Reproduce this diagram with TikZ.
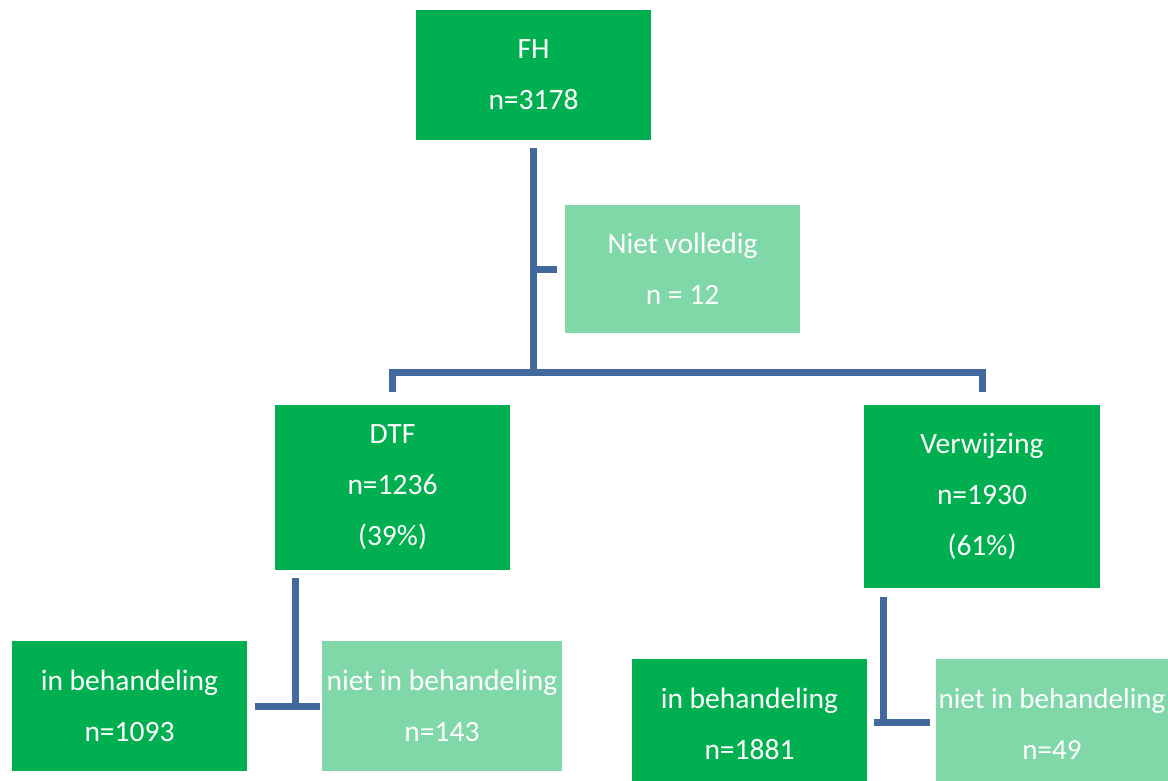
\documentclass[tikz,border=0pt]{standalone}
\usepackage{fontspec}
\setmainfont{Carlito}
\usepackage{tikz}
\usepackage{xcolor}
\usetikzlibrary{positioning, calc}
\definecolor{cDark}{RGB}{0,176,80}
\definecolor{cLight}{RGB}{128,216,168}
\definecolor{cLine}{RGB}{65,105,158}
\tikzset{
	box/.style     ={rectangle, inner sep=0pt, minimum width=235pt, text=white, align=center, font=\fontsize{29.5}{51}\selectfont},
	darkbox/.style ={box, fill=cDark},
	lightbox/.style={box, fill=cLight},
	conn/.style    ={cLine, line width=7pt},
}
\begin{document}
\begin{tikzpicture}[x=1pt, y=-1pt]
	\useasboundingbox (0,0) rectangle (1168,781);
	\clip (0,0) rectangle (1168,781);
	% boxes
	\node[darkbox, minimum height=130pt] (fh) at (533.5,75) {FH\\n=3178};
	\node[lightbox, minimum height=128pt] (nietvol) at (682.5,269) {Niet volledig\\n = 12};
	\node[darkbox, minimum height=165pt] (dtf) at (392.5,487.5) {DTF\\n=1236\\(39\%)};
	\node[darkbox, minimum height=183pt, minimum width=236pt] (verw) at (982,496.5) {Verwijzing\\n=1930\\(61\%)};
	\node[darkbox, minimum height=130pt] (dtfin) at (129.5,706) {in behandeling\\n=1093};
	\node[lightbox, minimum height=130pt, minimum width=240pt] (dtfniet) at (442,706) {niet in behandeling\\n=143};
	\node[darkbox, minimum height=130pt] (verwin) at (749.5,724) {in behandeling\\n=1881};
	\node[lightbox, minimum height=130pt, minimum width=232pt, font=\fontsize{29}{51}\selectfont] (verwniet) at (1052,724) {niet in behandeling\\n=49};
	% connectors
	\coordinate (split) at (fh.south |- 0,372);
	\draw[conn] ($(fh.south)+(0,8)$) -- (split);
	\draw[conn] (split |- nietvol.west) -- ($(nietvol.west)+(-8,0)$);
	\draw[conn] ($(dtf.north)+(0,-13)$) |- (split) -| ($(verw.north)+(0,-13)$);
	\draw[conn] ($(dtf.south west)+(21,8)$) -- ($(dtf.south west)+(21,135)$);
	\draw[conn] ($(dtfin.east)+(8,0)$) -- ($(dtfniet.west)+(-2,0)$);
	\draw[conn] ($(verw.south west)+(20,9)$) -- ($(verw.south west)+(20,134)$);
	\draw[conn] ($(verwin.east)+(7,-2)$) -- ($(verwniet.west)+(-6,-2)$);
\end{tikzpicture}
\end{document}
